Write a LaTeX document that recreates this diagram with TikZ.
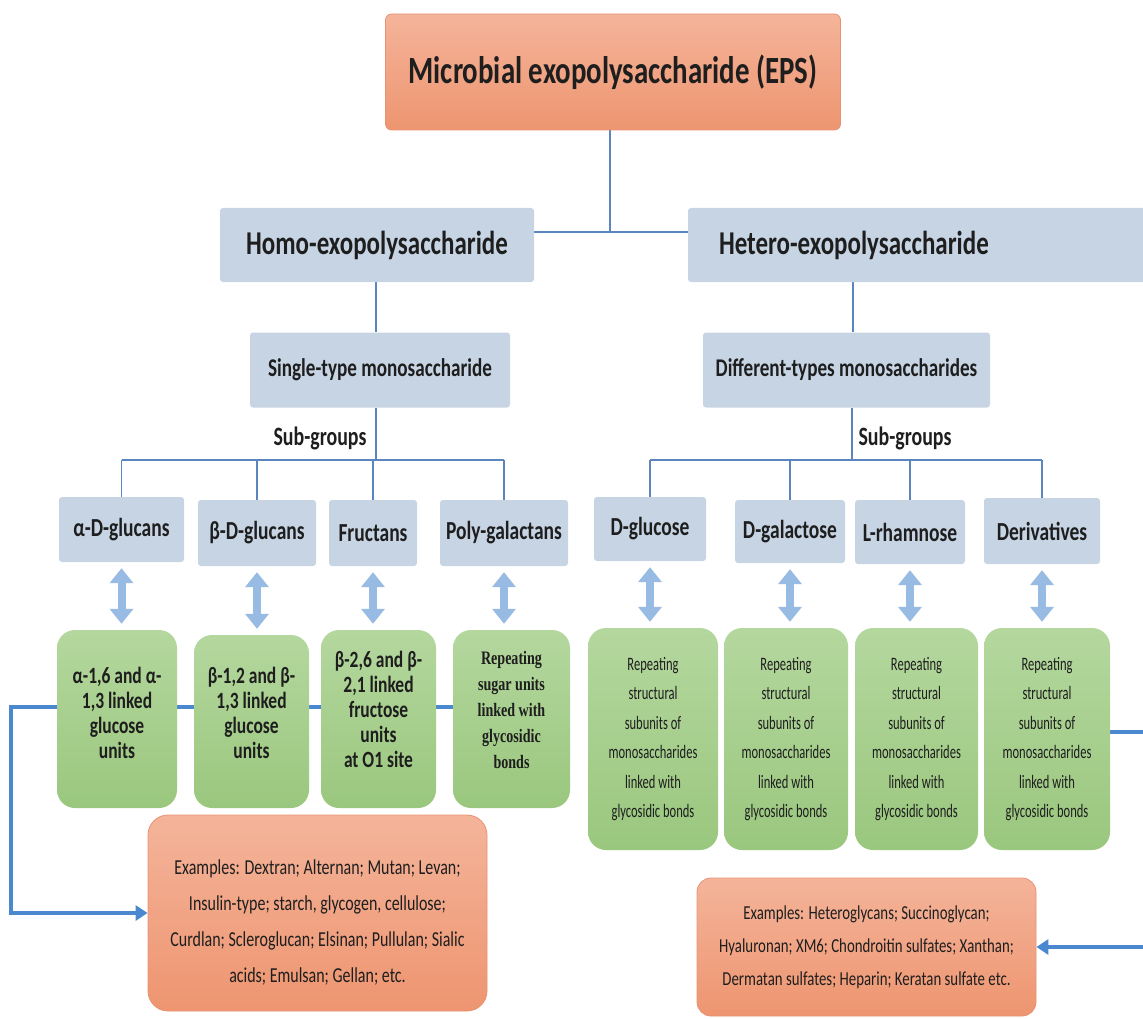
\documentclass[tikz,border=0pt]{standalone}
\usepackage{fontspec}
\setmainfont{Carlito}[FakeStretch=0.75]
\newfontfamily\narrowf{Carlito}[FakeStretch=0.66]
\newfontfamily\serifcond{Liberation Serif}[FakeStretch=0.74]
\usetikzlibrary{arrows.meta,backgrounds}
\definecolor{salT}{HTML}{F4B49A}
\definecolor{salB}{HTML}{EE9570}
\definecolor{salD}{HTML}{E89272}
\definecolor{bluef}{HTML}{C6D4E4}
\definecolor{grnT}{HTML}{B4D79E}
\definecolor{grnB}{HTML}{9AC77E}
\definecolor{lineblue}{HTML}{5A85BF}
\definecolor{connblue}{HTML}{4A89CF}
\definecolor{dblblue}{HTML}{97BBE2}
\definecolor{txt}{HTML}{1E1E1E}
\newcommand\myfs[2]{\fontsize{#1}{#2}\selectfont}
\tikzset{
  base/.style={inner sep=0pt, align=center, text=txt},
  salmonbox/.style={base, top color=salT, bottom color=salB, draw=salD, line width=0.8pt},
  bluebox/.style={base, fill=bluef, rounded corners=3pt},
  greenbox/.style={base, top color=grnT, bottom color=grnB, rounded corners=18pt},
  tree/.style={draw=lineblue, line width=1.8pt},
  conn/.style={draw=connblue, line width=3.5pt},
  conntip/.style={-{Triangle[width=15pt,length=12pt]}},
  dbl/.style={draw=dblblue, line width=8pt, {Triangle[width=23pt,length=15pt]}-{Triangle[width=23pt,length=15pt]}, shorten <=6pt, shorten >=6pt},
  lvl1/.style={font=\myfs{33.3}{38}\bfseries},
  lvl2/.style={font=\myfs{25.5}{30}\bfseries},
  sub/.style={font=\myfs{26.5}{30}\bfseries},
  lvl3/.style={font=\myfs{26}{30}\bfseries},
  gtxt/.style={base, font=\myfs{23.3}{25}\bfseries},
  rtxt/.style={font=\narrowf\myfs{19}{29.5}},
}
\begin{document}
\begin{tikzpicture}[x=1pt,y=-1pt]
\useasboundingbox (0,0) rectangle (1143,1019);

% top
\node[salmonbox, rounded corners=6pt, minimum width=455pt, minimum height=116pt, font=\myfs{38.5}{44}\bfseries] (top) at (613,72) {Microbial exopolysaccharide (EPS)};

% level 1
\node[bluebox, lvl1, minimum width=314pt, minimum height=74pt] (homo) at (377,245) {Homo-exopolysaccharide};
\node[bluebox, lvl1, minimum width=460pt, minimum height=74pt, text width=398pt, align=left] (hetero) at (918,245) {Hetero-exopolysaccharide};

% level 2
\node[bluebox, lvl2, minimum width=260pt, minimum height=75pt] (single) at (380,370) {Single-type monosaccharide};
\node[bluebox, lvl2, minimum width=287pt, minimum height=75pt] (diff) at (846.5,370) {Different-types monosaccharides};

\node[sub, base] (sgl) at (320,438) {Sub-groups};
\node[sub, base] (sgr) at (905,438) {Sub-groups};

% level 3
\node[bluebox, lvl3, minimum width=125pt, minimum height=65pt] (ag) at (121.5,529.5) {α-D-glucans};
\node[bluebox, lvl3, minimum width=118pt, minimum height=66pt] (bg) at (257,533) {β-D-glucans};
\node[bluebox, lvl3, minimum width=88pt, minimum height=66pt] (fr) at (373,533) {Fructans};
\node[bluebox, lvl3, minimum width=128pt, minimum height=66pt] (pg) at (504,533) {Poly-galactans};
\node[bluebox, lvl3, minimum width=112pt, minimum height=64pt] (dg) at (650,529) {D-glucose};
\node[bluebox, lvl3, minimum width=110pt, minimum height=63pt] (dga) at (790,531.5) {D-galactose};
\node[bluebox, lvl3, minimum width=110pt, minimum height=64pt] (lr) at (910,532) {L-rhamnose};
\node[bluebox, lvl3, minimum width=116pt, minimum height=66pt] (de) at (1042,531) {Derivatives};

% green boxes (left): box and its text
\node[greenbox, minimum width=120pt, minimum height=178pt] (gag) at (117,719) {};
\node[gtxt] (tgag) at ([yshift=6pt]gag.center) {α-1,6 and α-\\1,3 linked\\glucose\\units};
\node[greenbox, minimum width=115pt, minimum height=173pt] (gbg) at (251.5,721.5) {};
\node[gtxt] (tgbg) at ([yshift=9pt]gbg.center) {β-1,2 and β-\\1,3 linked\\glucose\\units};
\node[greenbox, minimum width=115pt, minimum height=178pt] (gfr) at (378.5,719) {};
\node[gtxt] (tgfr) at ([yshift=10pt]gfr.center) {β-2,6 and β-\\2,1 linked\\fructose\\units\\at O1 site};
\node[greenbox, minimum width=117pt, minimum height=178pt] (gpg) at (511.5,719) {};
\node[base, font=\serifcond\myfs{19}{26}\bfseries] (tgpg) at ([yshift=9pt]gpg.center) {Repeating\\sugar units\\linked with\\glycosidic\\bonds};

% green boxes (right)
\node[greenbox, rtxt, minimum width=130pt, minimum height=222pt] (gdg) at (653,739) {Repeating\\structural\\subunits of\\monosaccharides\\linked with\\glycosidic bonds};
\node[greenbox, rtxt, minimum width=124pt, minimum height=222pt] (gdga) at (786,739) {Repeating\\structural\\subunits of\\monosaccharides\\linked with\\glycosidic bonds};
\node[greenbox, rtxt, minimum width=123pt, minimum height=222pt] (glr) at (916.5,739) {Repeating\\structural\\subunits of\\monosaccharides\\linked with\\glycosidic bonds};
\node[greenbox, rtxt, minimum width=126pt, minimum height=222pt] (gde) at (1047,739) {Repeating\\structural\\subunits of\\monosaccharides\\linked with\\glycosidic bonds};

% example boxes
\node[salmonbox, rounded corners=20pt, minimum width=339pt, minimum height=196pt] (exl) at (317.5,913) {};
\node[base, font=\myfs{21.3}{36}] (texl) at ([yshift=-9pt]exl.center) {Examples: Dextran; Alternan; Mutan; Levan;\\Insulin-type; starch, glycogen, cellulose;\\Curdlan; Scleroglucan; Elsinan; Pullulan; Sialic\\acids; Emulsan; Gellan; etc.};
\node[salmonbox, rounded corners=14pt, font=\myfs{19.8}{33}, minimum width=339pt, minimum height=138pt] (exr) at (866.5,947) {Examples: Heteroglycans; Succinoglycan;\\Hyaluronan; XM6; Chondroitin sulfates; Xanthan;\\Dermatan sulfates; Heparin; Keratan sulfate etc.};

% coordinates for joints
\coordinate (j0) at (610,232);
\coordinate (hx) at (853,0);
\coordinate (lbar) at (376,460);
\coordinate (rbar) at (852,460);
\coordinate (lc) at (11,707);
\coordinate (rc) at (1152,732);

\begin{pgfonlayer}{background}
  % tree lines
  \draw[tree] (top.south -| j0) -- (j0);
  \draw[tree] (homo.east |- j0) -- (hetero.west |- j0);
  \draw[tree] (homo.south -| lbar) -- (single.north -| lbar);
  \draw[tree] (hetero.south -| hx) -- (diff.north -| hx);
  \draw[tree] (single.south -| lbar) -- (lbar);
  \draw[tree] (diff.south -| rbar) -- (rbar);
  \draw[tree] (ag.north |- lbar) -- (pg.north |- lbar);
  \draw[tree] (dg.north |- rbar) -- (de.north |- rbar);
  \foreach \n in {ag,bg,fr,pg,dg,dga,lr,de} {\draw[tree] (\n.north |- lbar) -- (\n.north);}
  % connectors to example boxes
  \draw[conn, conntip] (gpg.west |- lc) -- (lc) |- (exl.west);
  \draw[conn, conntip] (gde.east |- rc) -- (rc) |- (exr.east);
\end{pgfonlayer}

% double arrows
\draw[dbl] (ag.south) -- (gag.north -| ag.south);
\draw[dbl] (bg.south) -- (gbg.north -| bg.south);
\draw[dbl] (fr.south) -- (gfr.north -| fr.south);
\draw[dbl] (pg.south) -- (gpg.north -| pg.south);
\draw[dbl] (dg.south) -- (gdg.north -| dg.south);
\draw[dbl] (dga.south) -- (gdga.north -| dga.south);
\draw[dbl] (lr.south) -- (glr.north -| lr.south);
\draw[dbl] (de.south) -- (gde.north -| de.south);
\end{tikzpicture}
\end{document}
